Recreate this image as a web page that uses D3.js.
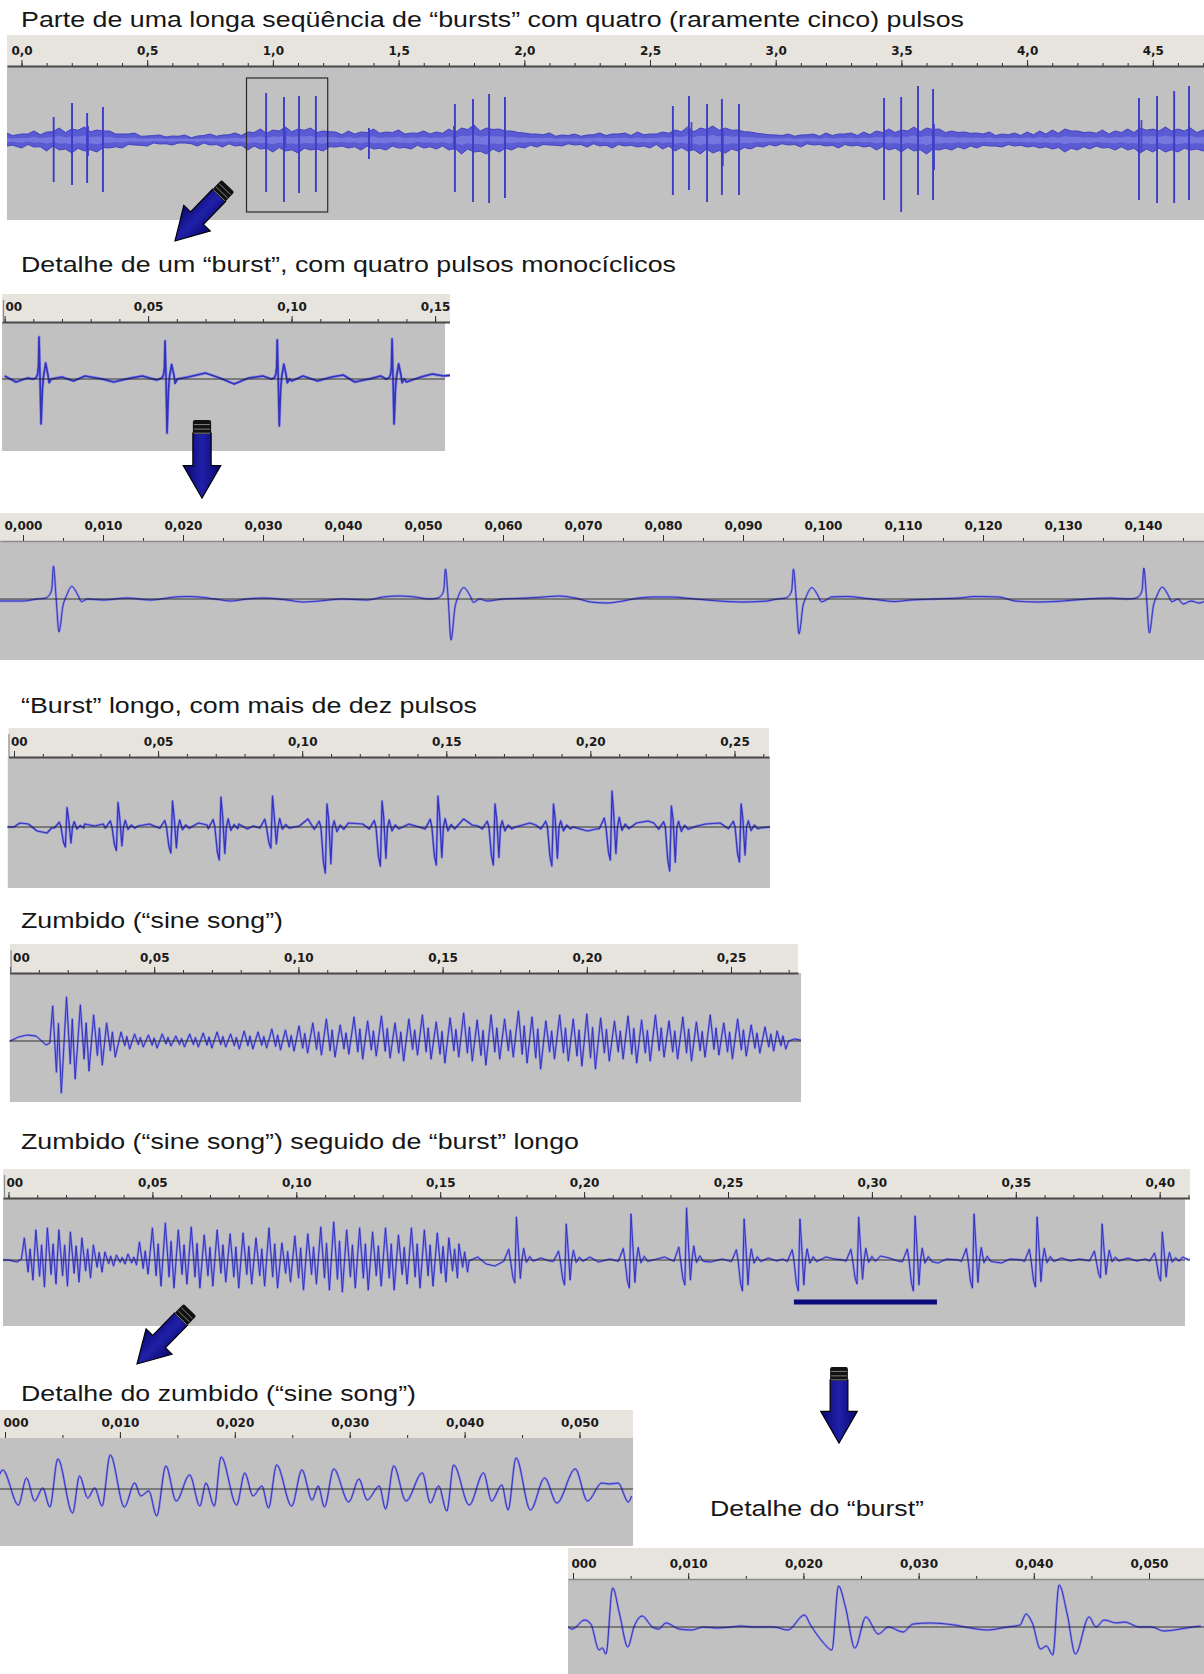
<!DOCTYPE html>
<html>
<head>
<meta charset="utf-8">
<title>Canto de corte da Drosophila</title>
<script src="https://cdn.jsdelivr.net/npm/d3@7/dist/d3.min.js"></script>
<style>
  body { margin: 0; background: #fff; }
  svg { display: block; }
  .title { font-family: "Liberation Sans", Arial, sans-serif; font-size: 21.5px; fill: #161616; }
  .ruler text { font-family: "DejaVu Sans", sans-serif; font-size: 12px; font-weight: bold; fill: #1a1a1a; }
</style>
</head>
<body>
<div id="fig"></div>
<script>
// ---------- tick labels (seconds) ----------
var ticksOverview = [0, 0.5, 1.0, 1.5, 2.0, 2.5, 3.0, 3.5, 4.0, 4.5];
var ticksBurst = [0, 0.05, 0.10, 0.15];
var ticksBurstZoom = [0, 0.010, 0.020, 0.030, 0.040, 0.050, 0.060, 0.070, 0.080, 0.090, 0.100, 0.110, 0.120, 0.130, 0.140];
var ticksLong = [0, 0.05, 0.10, 0.15, 0.20, 0.25];
var ticksSine = [0, 0.05, 0.10, 0.15, 0.20, 0.25];
var ticksMixed = [0, 0.05, 0.10, 0.15, 0.20, 0.25, 0.30, 0.35, 0.40];
var ticksDetail = [0, 0.010, 0.020, 0.030, 0.040, 0.050];

// ---------- overview (seconds, amplitude up / down) ----------
var overviewPulses = [
  [0.128, 23, 42], [0.201, 37, 45], [0.261, 27, 43], [0.324, 33, 52],
  [0.973, 47, 52], [1.044, 43, 62], [1.104, 44, 53], [1.171, 44, 52],
  [1.382, 12, 19],
  [1.724, 36, 52], [1.796, 41, 62], [1.860, 46, 63], [1.923, 43, 58],
  [2.591, 34, 55], [2.655, 44, 50], [2.727, 36, 62], [2.786, 41, 55], [2.854, 36, 55],
  [3.431, 42, 60], [3.499, 43, 72], [3.566, 54, 55], [3.626, 51, 60],
  [4.445, 42, 60], [4.517, 44, 63], [4.585, 49, 63], [4.644, 54, 60]
];
var overviewSmallSpikes = [
  [0.265, 14, 16], [1.050, 12, 8], [1.720, 14, 10], [2.665, 18, 10],
  [2.790, 10, 26], [3.630, 16, 30], [4.455, 20, 12]
];
// background noise band: time, half-height above, half-height below
var overviewNoise = [
  [-0.06, 7, 6], [0.00, 6, 8], [0.05, 9, 7], [0.10, 8, 11], [0.15, 12, 10], [0.20, 11, 13], [0.25, 13, 11],
  [0.30, 10, 12], [0.35, 9, 8], [0.40, 6, 8], [0.45, 7, 5], [0.50, 4, 6], [0.55, 5, 4], [0.60, 4, 5],
  [0.65, 5, 3], [0.70, 4, 6], [0.75, 6, 5], [0.80, 5, 7], [0.85, 7, 6], [0.90, 8, 10], [0.95, 11, 9],
  [1.00, 10, 12], [1.05, 13, 11], [1.10, 11, 13], [1.15, 12, 10], [1.20, 9, 11], [1.25, 8, 7], [1.30, 9, 8],
  [1.35, 8, 10], [1.40, 11, 9], [1.45, 8, 10], [1.50, 10, 8], [1.55, 7, 9], [1.60, 9, 8], [1.65, 8, 9],
  [1.70, 11, 10], [1.75, 12, 14], [1.80, 15, 12], [1.85, 12, 14], [1.90, 11, 12], [1.95, 9, 10], [2.00, 7, 8],
  [2.05, 6, 7], [2.10, 7, 5], [2.15, 5, 6], [2.20, 6, 5], [2.25, 5, 7], [2.30, 7, 6], [2.35, 6, 8],
  [2.40, 7, 6], [2.45, 8, 7], [2.50, 6, 8], [2.55, 8, 9], [2.60, 10, 11], [2.65, 13, 11], [2.70, 12, 14],
  [2.75, 14, 13], [2.80, 12, 13], [2.85, 10, 11], [2.90, 8, 9], [2.95, 6, 7], [3.00, 5, 6], [3.05, 6, 5],
  [3.10, 5, 7], [3.15, 6, 5], [3.20, 7, 6], [3.25, 6, 8], [3.30, 7, 6], [3.35, 8, 7], [3.40, 9, 10],
  [3.45, 11, 10], [3.50, 10, 12], [3.55, 13, 11], [3.60, 12, 14], [3.65, 11, 10], [3.70, 9, 10], [3.75, 8, 9],
  [3.80, 7, 8], [3.85, 8, 6], [3.90, 6, 7], [3.95, 7, 6], [4.00, 8, 7], [4.05, 9, 8], [4.10, 10, 9],
  [4.15, 11, 12], [4.20, 9, 10], [4.25, 8, 9], [4.30, 10, 8], [4.35, 9, 10], [4.40, 11, 10], [4.45, 12, 13],
  [4.50, 11, 12], [4.55, 13, 12], [4.60, 11, 12], [4.65, 12, 10], [4.70, 10, 11], [4.75, 9, 10]
];
var overviewSelection = [0.895, 1.218];
var overviewSelectionAmp = [62, -72];

// ---------- pulse shapes (offset in ms, fraction of up (+) or down (-) amplitude) ----------
var monoShapeMs = [[-2.0, 0], [-1.0, 0.03], [-0.5, 0.12], [-0.2, 0.3], [0, 1], [0.35, 0], [0.7, -1],
  [1.2, -0.2], [1.6, 0.08], [2.3, 0.38], [3.1, 0.1], [3.5, -0.08], [4.3, 0]];
var longShapeMs = [[-4.4, -0.05], [-2.7, 0.25], [-2.1, 0], [-1.25, -0.75], [-0.58, -1], [0, 1], [0.6, 0.35],
  [1.35, -0.8], [1.9, 0], [2.5, 0.27], [3.45, -0.1], [4.6, 0.08], [5.8, -0.05]];
var sineShapeMs = [[0, 1], [1.3, -0.6], [2.0, 0.5], [3.0, -1]];

// ---------- burst detail (ms) ----------
var burstPulsesMs = [[12.0, 42, 45], [55.9, 38, 54], [95.0, 39, 47], [135.0, 40, 45]];
var burstBaseMs = [[0, 3], [4, -3], [8, 1], [20, 2], [24, -2], [28, 3], [34, 0], [38, -3], [44, 1], [48, 3],
  [53, -1], [60, -4], [64, 2], [70, 6], [75, 1], [80, -5], [85, 1], [90, 3], [100, -2], [104, 3], [109, -2],
  [114, 2], [118, 4], [122, -3], [127, 0], [131, 3], [140, -3], [145, 2], [149, 5], [153, 3], [156, 4]];

var zoomPulsesMs = [[3.8, 33, 33], [52.8, 30, 41], [96.3, 30, 35], [140.1, 31, 34]];
var zoomBaseMs = [[-3, -2], [0, -2], [1.5, -1], [7, 0], [10, -1], [13, 1], [16, -1], [19, 2], [20.5, 2.5], [22, 2],
  [24, 0], [26, -2], [28, 0], [30, 1], [33, -1], [35, -3], [37, -2], [40, 0], [43, -1], [45, 2], [47, 3],
  [49, 2], [50.5, 0], [58, -2], [60, 0], [63, 1], [65, 2], [67, 3], [69, 1], [71, -3], [73, -4], [75, -2],
  [77, 1], [79, 2], [81, 2], [84, 0], [87, -2], [90, -3], [93, -2], [94, 0], [101, 2], [103, 2.5], [105, 1],
  [107, -1], [109, -2.5], [111, -1], [114, 0], [117, 1], [119, 2.5], [122, 2], [124, -2], [127, -3],
  [130, -2], [133, 0], [136, 1], [138, 0], [145, -5], [146, -2], [147, -4], [148, -1]];

// ---------- long burst (ms) ----------
var longPulsesMs = [[18.4, 19.5, 20], [36.1, 24.5, 23.5], [55.0, 26, 26], [71.8, 30, 33], [89.7, 31, 21],
  [108.6, 23, 46], [127.7, 26, 39], [147.1, 31, 38], [166.9, 23, 38], [187.2, 23, 39], [207.5, 36, 33],
  [228.1, 21, 44], [252.3, 23, 35]];
var longBaseMs = [[-3, 0], [0, 0], [2, 4], [5, 3], [8, -4], [11.5, -6], [13, -1], [24.5, 3], [28, 1], [31, 3],
  [43, 1], [47, 3], [61, 0], [64, 4], [67, 2], [78, 3], [81, -2], [83, 1], [99, 1], [102, 8], [114, 3],
  [116, 4], [121, 3], [133, 0], [137, 3], [156, 8], [159, 2], [161, 1], [174, 0], [179, 4], [181, 2],
  [194, 0], [199, -4], [202, -2], [216, 4], [220, 6], [222, 4], [237, 1], [240, 3], [245, 4], [259, -1],
  [262, 0], [265, 1]];

// ---------- sine song (ms, up, down per cycle) ----------
var sineBaseMs = [[-2, 0], [0, 0], [3, 4], [6, 6], [9, 5], [11, 0], [12.5, -4], [13.8, -2],
  [268, 3], [270, 0], [272, 2], [276, 0]];
var sineCyclesMs = [
  [14.8, 35, 52], [19.6, 44, 38], [24.4, 36, 30], [29.0, 26, 24], [33.5, 18, 16],
  [38.5, 9, 8], [43.2, 7, 6], [48.0, 6, 7], [52.8, 7, 5], [57.5, 5, 6], [62.3, 7, 6], [67.0, 8, 7],
  [71.8, 9, 6], [76.5, 7, 8], [81.2, 10, 8], [86.0, 9, 7], [90.8, 12, 9], [95.5, 11, 10],
  [100.2, 15, 12], [105.0, 18, 14], [109.7, 22, 16], [114.5, 16, 13], [119.3, 24, 18], [124.0, 20, 15],
  [128.8, 25, 17], [133.5, 18, 20], [138.3, 22, 14], [143.0, 26, 18], [147.8, 19, 22], [152.6, 23, 16],
  [157.3, 28, 20], [162.0, 21, 24], [166.8, 26, 18], [171.5, 22, 16], [176.3, 30, 22], [181.0, 24, 28],
  [185.8, 20, 18], [190.6, 26, 20], [195.3, 22, 25], [200.0, 27, 28], [204.8, 23, 20], [209.6, 20, 18],
  [214.3, 25, 22], [219.0, 21, 20], [223.8, 26, 16], [228.5, 20, 18], [233.3, 24, 20], [238.0, 19, 16],
  [242.8, 26, 14], [247.5, 18, 18], [252.3, 22, 15], [257.0, 16, 12], [261.8, 14, 10], [266.0, 10, 8]];

// ---------- sine song followed by long burst (ms) ----------
var mixedSineMs = [
  [5.5, 22, 20], [9.5, 30, 27], [13.5, 32, 24], [17.5, 30, 26], [21.5, 28, 22], [25.5, 22, 18],
  [29.5, 15, 12], [33.5, 8, 6], [37.5, 5, 4], [41.5, 6, 5],
  [45.5, 18, 14], [50.0, 32, 26], [54.5, 37, 28], [59.0, 30, 24], [63.5, 33, 28], [68.0, 25, 26],
  [72.5, 30, 22], [77.0, 26, 28], [81.5, 27, 24], [86.0, 22, 26], [90.5, 32, 28], [95.0, 17, 22],
  [99.5, 24, 30], [104.0, 26, 24], [108.5, 33, 30], [113.0, 38, 32], [117.5, 30, 28], [122.0, 32, 30],
  [126.5, 28, 26], [131.0, 32, 30], [135.5, 25, 24], [140.0, 32, 28], [144.5, 30, 26], [149.0, 27, 22],
  [153.0, 22, 18], [156.5, 16, 12]];
var mixedPulsesMs = [[176.5, 43, 23], [193.8, 36, 25], [216.3, 46, 28], [235.6, 52, 25], [255.6, 41, 31],
  [275.0, 41, 31], [295.4, 43, 24], [315.0, 44, 31], [335.5, 46, 28], [357.4, 43, 27], [380.0, 36, 18],
  [400.9, 28, 21]];
var mixedBaseMs = [[-2, 0], [0, 0], [3, -2], [4.5, 1], [160, -1], [163, 3], [166, -4], [169, -6], [172, -2],
  [185, 2], [188, -1], [202, 3], [205, -2], [209, 1], [224, 0], [228, 3], [231, 1], [244, -2], [248, 1],
  [264, 2], [267, -1], [269, 1], [284, 3], [287, 1], [290, 0], [303, 4], [306, 2], [309, -1], [323, -3],
  [326, 1], [330, 0], [345, -3], [348, 1], [352, 0], [366, 2], [369, -1], [372, 1], [374, 0], [389, 2],
  [392, -1], [395, 1], [408, 3], [410, 0], [412, 2]];
var mixedMarkMs = [272.9, 322.6];
var mixedMarkAmp = -42;

// ---------- detail of the sine song (ms, amplitude) ----------
var sineDetailMs = [[-0.5, 14], [-0.2, 19], [1.17, -16], [1.87, 11], [2.58, -12], [3.29, 1], [3.90, -18],
  [4.60, 30], [5.88, -24], [6.49, 13], [7.20, -9], [7.81, 1], [8.44, -17], [9.16, 34], [10.39, -18],
  [11.28, 6], [11.82, -7], [12.52, -2], [13.2, -27], [14.0, 23], [14.9, -12], [16.07, 14], [16.96, -17],
  [17.49, 6], [18.21, -17], [18.81, 32], [20.16, -16], [20.87, 16], [21.58, -7], [22.36, 3], [22.93, -19],
  [23.64, 24], [24.95, -17], [25.84, 19], [26.73, -11], [27.26, 3], [27.80, -18], [28.61, 20], [29.92, -13],
  [30.81, 10], [31.52, -11], [32.58, 3], [33.12, -20], [33.83, 23], [34.90, -12], [36.32, 16], [37.02, -14],
  [37.74, 3], [38.45, -22], [39.05, 24], [40.40, -16], [41.65, 16], [42.35, -12], [43.24, 4], [43.78, -21],
  [44.48, 31], [45.73, -21], [46.97, 11], [48.03, -14], [49.63, 20], [50.70, -12], [51.94, 6], [52.6, 5],
  [53.36, 6], [54.25, -13], [54.53, -7]];

// ---------- detail of the burst (ms, amplitude) ----------
var burstDetailMs = [[-0.42, 0], [-0.06, -2], [1.01, 7], [1.55, 3], [2.26, -23], [2.55, -21], [2.86, -27],
  [3.44, 39], [4.04, 13], [4.76, -20], [5.29, 0], [6.00, 11], [6.89, 0], [7.43, -2], [8.07, 4], [9.21, -2],
  [10.28, -3], [11.35, 0], [12.5, -1], [13.7, 0], [14.6, 1], [15.6, 0], [17.41, 0], [18.65, -3], [20.09, 12],
  [20.62, 2], [21.68, -15], [22.47, -23], [23.05, 41], [23.65, 20], [24.47, -21], [25.43, 10], [26.50, -7],
  [27.39, 0], [28.64, -5], [29.53, 3], [30.95, 4], [33.10, 2], [34.52, -1], [35.95, -3], [37.73, 0],
  [38.80, 2], [39.33, 13], [39.87, 4], [40.58, -22], [41.1, -19], [41.65, -28], [42.19, 42], [42.90, 13],
  [43.61, -27], [44.79, 10], [45.40, 0], [46.11, 7], [47.18, 4], [47.89, 5], [49.14, 0], [50.21, 0],
  [51.28, -4], [53.78, 0], [54.49, 1]];

// ---------- layout ----------
var layout = [
  {title: "Parte de uma longa seqüência de “bursts” com quatro (raramente cinco) pulsos", tx: 21, ty: 27, tw: 943,
   rx0: 7, rx1: 1204, gx0: 7, gx1: 1204, rTop: 35, rBot: 66, gBot: 220, zero: 140, amp: 77,
   t0x: 21.5, k: 251.4, ticks: ticksOverview, minor: 0.1, fmt: ".1f", rule: "#484848", ruleW: 2},
  {title: "Detalhe de um “burst”, com quatro pulsos monocíclicos", tx: 21, ty: 272, tw: 655,
   rx0: 2, rx1: 450, gx0: 2, gx1: 445, rTop: 294, rBot: 322, gBot: 451, zero: 379, amp: 57,
   t0x: 4.6, k: 2870, ticks: ticksBurst, minor: 0.01, fmt: ".2f", rule: "#484848", ruleW: 2,
   zeroLabel: "00", marker: true},
  {title: null,
   rx0: 0, rx1: 1204, gx0: 0, gx1: 1204, rTop: 513, rBot: 541, gBot: 660, zero: 599, amp: 58,
   t0x: 23, k: 8000, ticks: ticksBurstZoom, minor: 0.005, fmt: ".3f", rule: "#8a8a8a", ruleW: 1.5},
  {title: "“Burst” longo, com mais de dez pulsos", tx: 21, ty: 713, tw: 456,
   rx0: 8.5, rx1: 769, gx0: 7.5, gx1: 770, rTop: 728, rBot: 757, gBot: 888, zero: 827, amp: 70,
   t0x: 14, k: 2882, ticks: ticksLong, minor: 0.01, fmt: ".2f", rule: "#484848", ruleW: 2,
   zeroLabel: "00", marker: true},
  {title: "Zumbido (“sine song”)", tx: 21, ty: 928, tw: 262,
   rx0: 9.6, rx1: 798, gx0: 9.6, gx1: 801, rTop: 944, rBot: 973, gBot: 1102, zero: 1041, amp: 68,
   t0x: 10, k: 2884, ticks: ticksSine, minor: 0.01, fmt: ".2f", rule: "#484848", ruleW: 2,
   zeroLabel: "00", marker: true},
  {title: "Zumbido (“sine song”) seguido de “burst” longo", tx: 21, ty: 1149, tw: 558,
   rx0: 3, rx1: 1190, gx0: 3, gx1: 1185, rTop: 1169, rBot: 1198, gBot: 1326, zero: 1260, amp: 62,
   t0x: 8.5, k: 2878, ticks: ticksMixed, minor: 0.01, fmt: ".2f", rule: "#484848", ruleW: 2,
   zeroLabel: "00", marker: true},
  {title: "Detalhe do zumbido (“sine song”)", tx: 21, ty: 1401, tw: 395,
   rx0: 0, rx1: 633, gx0: 0, gx1: 633, rTop: 1410, rBot: 1438, gBot: 1546, zero: 1489, amp: 50,
   t0x: 5, k: 11490, ticks: ticksDetail, minor: 0.005, fmt: ".3f", rule: "none", ruleW: 0,
   zeroLabel: "000"},
  {title: "Detalhe do “burst”", tx: 710, ty: 1516, tw: 214,
   rx0: 568, rx1: 1204, gx0: 568, gx1: 1204, rTop: 1548, rBot: 1579, gBot: 1674, zero: 1627, amp: 48,
   t0x: 573, k: 11520, ticks: ticksDetail, minor: 0.005, fmt: ".3f", rule: "#8a8a8a", ruleW: 1.5,
   zeroLabel: "000"}
];

var arrows = [
  {tail: [228, 186], tip: [175, 241]},
  {tail: [202, 420], tip: [202, 498]},
  {tail: [190, 1310], tip: [137, 1364]},
  {tail: [839, 1367], tip: [839, 1443]}
];

var loc = d3.formatLocale({decimal: ",", thousands: ".", grouping: [3], currency: ["", ""]});

var svg = d3.select("#fig").append("svg")
    .attr("width", 1204)
    .attr("height", 1674);
var defs = svg.append("defs");

var grad = defs.append("linearGradient").attr("id", "arrowFill")
    .attr("x1", 0).attr("y1", 0).attr("x2", 0).attr("y2", 1);
grad.append("stop").attr("offset", "0%").attr("stop-color", "#080870");
grad.append("stop").attr("offset", "50%").attr("stop-color", "#2020a8");
grad.append("stop").attr("offset", "100%").attr("stop-color", "#080870");

// merge a baseline with events drawn from a shape template
function buildWave(baseMs, events, shapeMs) {
    var lo = shapeMs[0][0], hi = shapeMs[shapeMs.length - 1][0];
    var pts = baseMs.filter(function(b) {
        return !events.some(function(e) {
            var dt = b[0] - e[0];
            return dt >= lo - 0.3 && dt <= hi + 0.3;
        });
    }).slice();
    events.forEach(function(e) {
        shapeMs.forEach(function(s) {
            pts.push([e[0] + s[0], s[1] >= 0 ? s[1] * e[1] : s[1] * e[2]]);
        });
    });
    return pts.sort(function(a, b) { return a[0] - b[0]; });
}

function drawPanel(p, i) {
    var left = Math.min(p.rx0, p.gx0), right = Math.max(p.rx1, p.gx1);
    var x = d3.scaleLinear()
        .domain([(left - p.t0x) / p.k, (right - p.t0x) / p.k])
        .range([left, right]);
    var rx = d3.scaleLinear()
        .domain([x.invert(p.rx0), x.invert(p.rx1)])
        .range([p.rx0, p.rx1]);
    var y = d3.scaleLinear()
        .domain([-p.amp, p.amp])
        .range([p.zero + p.amp, p.zero - p.amp]);

    if (p.title) {
        svg.append("text")
            .attr("class", "title")
            .attr("x", p.tx)
            .attr("y", p.ty)
            .attr("textLength", p.tw)
            .attr("lengthAdjust", "spacingAndGlyphs")
            .text(p.title);
    }

    defs.append("clipPath").attr("id", "clip-" + i)
        .append("rect")
        .attr("x", left).attr("y", p.rTop)
        .attr("width", right - left).attr("height", p.gBot - p.rTop);

    var g = svg.append("g").attr("clip-path", "url(#clip-" + i + ")");
    g.append("rect")
        .attr("x", p.rx0).attr("y", p.rTop)
        .attr("width", p.rx1 - p.rx0).attr("height", p.rBot - p.rTop)
        .attr("fill", "#e7e4de");
    g.append("rect")
        .attr("x", p.gx0).attr("y", p.rBot)
        .attr("width", p.gx1 - p.gx0).attr("height", p.gBot - p.rBot)
        .attr("fill", "#c1c1c1");

    var d = rx.domain();
    var minors = d3.range(Math.ceil(d[0] / p.minor), Math.floor(d[1] / p.minor) + 1)
        .map(function(n) { return n * p.minor; });

    var ruler = g.append("g")
        .attr("class", "ruler")
        .attr("transform", "translate(0," + p.rBot + ")")
        .style("color", "#2e2e2e");
    ruler.append("g")
        .call(d3.axisTop(rx).tickValues(minors).tickSize(3).tickSizeOuter(0).tickFormat(""))
        .select(".domain").remove();
    var major = ruler.append("g")
        .call(d3.axisTop(rx).tickValues(p.ticks).tickSize(6).tickSizeOuter(0).tickPadding(5)
            .tickFormat(loc.format(p.fmt)));
    major.select(".domain")
        .attr("stroke", p.rule)
        .attr("stroke-width", p.ruleW);

    // the "0" label is cut by the track edge: only its visible digits are shown
    if (p.zeroLabel) {
        major.selectAll(".tick")
            .filter(function(v) { return v === 0; })
            .select("text")
            .attr("text-anchor", "start")
            .attr("x", left + 3 - rx(0))
            .text(p.zeroLabel);
    }
    if (p.marker) {
        ruler.append("line")
            .attr("x1", left + 1.5).attr("x2", left + 1.5)
            .attr("y1", -(p.rBot - p.rTop) + 6).attr("y2", 0)
            .attr("stroke", "#8c8c8c")
            .attr("stroke-width", 1.2);
    }

    return {g: g, x: x, y: y, p: p};
}

function drawWave(pan, pts, curve, width) {
    var line = d3.line()
        .x(function(d) { return pan.x(d[0] / 1000); })
        .y(function(d) { return pan.y(d[1]); })
        .curve(curve);
    pan.g.append("path")
        .attr("d", line(pts))
        .attr("fill", "none")
        .attr("stroke", "#8c8ce4")
        .attr("stroke-width", width + 1.3)
        .attr("stroke-linejoin", "round");
    pan.g.append("path")
        .attr("d", line(pts))
        .attr("fill", "none")
        .attr("stroke", "#3333b8")
        .attr("stroke-width", width)
        .attr("stroke-linejoin", "round");
}

function drawZero(pan) {
    pan.g.append("line")
        .attr("x1", pan.p.gx0).attr("x2", pan.p.gx1)
        .attr("y1", pan.y(0)).attr("y2", pan.y(0))
        .attr("stroke", "#1c1c1c")
        .attr("stroke-width", 1)
        .attr("opacity", 0.85);
}

var panels = layout.map(drawPanel);

// overview: noise band (edges alternate between the two read envelopes), pulses and the selected burst
var ov = panels[0];
var band = [];
overviewNoise.forEach(function(d) {
    band.push({t: d[0], hi: d[1], lo: d[2]});
    band.push({t: d[0] + 0.025, hi: d[2] * 0.75, lo: d[1] * 0.75});
});
var noise = d3.area()
    .x(function(d) { return ov.x(d.t); })
    .y0(function(d) { return ov.y(-d.lo); })
    .y1(function(d) { return ov.y(d.hi); });
ov.g.append("path")
    .attr("d", noise(band))
    .attr("fill", "#5a5ad2")
    .attr("stroke", "#4242c2")
    .attr("stroke-width", 1)
    .attr("stroke-linejoin", "round");
ov.g.append("path")
    .attr("d", d3.area()
        .x(function(d) { return ov.x(d.t); })
        .y0(function(d) { return ov.y(-d.lo * 0.35); })
        .y1(function(d) { return ov.y(d.hi * 0.35); })(band))
    .attr("fill", "#7676de");
ov.g.selectAll(".spike-small")
    .data(overviewSmallSpikes)
    .enter().append("line")
    .attr("x1", function(d) { return ov.x(d[0]); })
    .attr("x2", function(d) { return ov.x(d[0]); })
    .attr("y1", function(d) { return ov.y(d[1]); })
    .attr("y2", function(d) { return ov.y(-d[2]); })
    .attr("stroke", "#4a4ac8")
    .attr("stroke-width", 1.8);
ov.g.selectAll(".spike")
    .data(overviewPulses)
    .enter().append("line")
    .attr("x1", function(d) { return ov.x(d[0]); })
    .attr("x2", function(d) { return ov.x(d[0]); })
    .attr("y1", function(d) { return ov.y(d[1]); })
    .attr("y2", function(d) { return ov.y(-d[2]); })
    .attr("stroke", "#3c3cc6")
    .attr("stroke-width", 1.9);
ov.g.append("rect")
    .attr("x", ov.x(overviewSelection[0]))
    .attr("y", ov.y(overviewSelectionAmp[0]))
    .attr("width", ov.x(overviewSelection[1]) - ov.x(overviewSelection[0]))
    .attr("height", ov.y(overviewSelectionAmp[1]) - ov.y(overviewSelectionAmp[0]))
    .attr("fill", "none")
    .attr("stroke", "#2a2a2a")
    .attr("stroke-width", 1.2);

// burst detail (small) and zoomed
drawWave(panels[1], buildWave(burstBaseMs, burstPulsesMs, monoShapeMs), d3.curveLinear, 1.6);
drawZero(panels[1]);
drawWave(panels[2], buildWave(zoomBaseMs, zoomPulsesMs, monoShapeMs), d3.curveMonotoneX, 1);
drawZero(panels[2]);

// long burst
drawWave(panels[3], buildWave(longBaseMs, longPulsesMs, longShapeMs), d3.curveLinear, 1.2);
drawZero(panels[3]);

// sine song
drawWave(panels[4], buildWave(sineBaseMs, sineCyclesMs, sineShapeMs), d3.curveLinear, 1);
drawZero(panels[4]);

// sine song followed by long burst
var mixed = buildWave(buildWave(mixedBaseMs, mixedSineMs, sineShapeMs), mixedPulsesMs, longShapeMs);
drawWave(panels[5], mixed, d3.curveLinear, 1);
drawZero(panels[5]);
panels[5].g.append("line")
    .attr("x1", panels[5].x(mixedMarkMs[0] / 1000))
    .attr("x2", panels[5].x(mixedMarkMs[1] / 1000))
    .attr("y1", panels[5].y(mixedMarkAmp))
    .attr("y2", panels[5].y(mixedMarkAmp))
    .attr("stroke", "#0a0a7c")
    .attr("stroke-width", 5);

// details
drawWave(panels[6], sineDetailMs, d3.curveMonotoneX, 1);
drawZero(panels[6]);
drawWave(panels[7], burstDetailMs, d3.curveMonotoneX, 1);
drawZero(panels[7]);

// arrows
function drawArrow(a) {
    var dx = a.tip[0] - a.tail[0], dy = a.tip[1] - a.tail[1];
    var len = Math.sqrt(dx * dx + dy * dy);
    var ang = Math.atan2(dy, dx) * 180 / Math.PI;
    var s = len / 77;
    var ag = svg.append("g")
        .attr("transform", "translate(" + a.tail[0] + "," + a.tail[1] + ") rotate(" + ang + ") scale(" + s + ")");
    ag.append("path")
        .attr("d", "M13,-9 L45,-9 L45,-18.5 L77,0 L45,18.5 L45,9 L13,9 Z")
        .attr("fill", "url(#arrowFill)")
        .attr("stroke", "#000")
        .attr("stroke-width", 1.2)
        .attr("stroke-linejoin", "miter");
    ag.append("rect")
        .attr("x", 0).attr("y", -9)
        .attr("width", 13.5).attr("height", 18)
        .attr("rx", 2)
        .attr("fill", "#111");
    [4.5, 9, 13].forEach(function(c) {
        ag.append("line")
            .attr("x1", c).attr("x2", c)
            .attr("y1", -8).attr("y2", 8)
            .attr("stroke", "#8a8a8a")
            .attr("stroke-width", 0.9);
    });
}
arrows.forEach(drawArrow);
</script>
</body>
</html>
